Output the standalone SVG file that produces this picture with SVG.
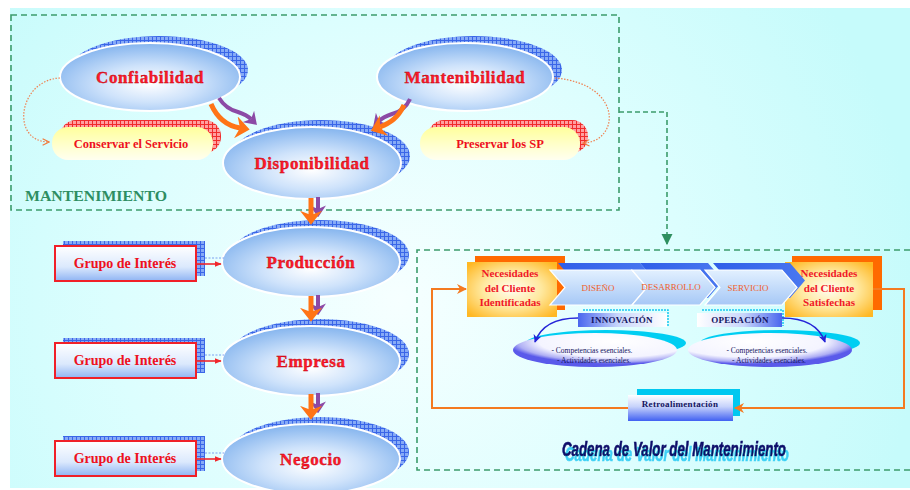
<svg xmlns="http://www.w3.org/2000/svg" width="910" height="490" viewBox="0 0 910 490">
  <defs>
    <radialGradient id="bg" cx="400" cy="300" r="520" gradientUnits="userSpaceOnUse">
      <stop offset="0" stop-color="#f6ffff"/>
      <stop offset="0.55" stop-color="#dcfefe"/>
      <stop offset="1" stop-color="#c6fbfb"/>
    </radialGradient>
    <radialGradient id="ellFill" cx="0.5" cy="0.6" r="0.6">
      <stop offset="0" stop-color="#ffffff"/>
      <stop offset="0.45" stop-color="#cfe3fb"/>
      <stop offset="1" stop-color="#84b4ee"/>
    </radialGradient>
    <linearGradient id="pillFill" x1="0" y1="0" x2="0" y2="1">
      <stop offset="0" stop-color="#ffff9c"/>
      <stop offset="0.5" stop-color="#ffffc8"/>
      <stop offset="1" stop-color="#fffff0"/>
    </linearGradient>
    <linearGradient id="grpFill" x1="0" y1="0" x2="0" y2="1">
      <stop offset="0" stop-color="#ffffff"/>
      <stop offset="0.6" stop-color="#dbe9fd"/>
      <stop offset="1" stop-color="#8fb4f3"/>
    </linearGradient>
    <radialGradient id="needFill" cx="0.5" cy="0.5" r="0.65">
      <stop offset="0" stop-color="#fffdf0"/>
      <stop offset="0.5" stop-color="#ffe9a0"/>
      <stop offset="1" stop-color="#ffb824"/>
    </radialGradient>
    <linearGradient id="chevFill" x1="0" y1="0" x2="0" y2="1">
      <stop offset="0" stop-color="#e2f0ff"/>
      <stop offset="1" stop-color="#a6c8f6"/>
    </linearGradient>
    <linearGradient id="chevShade" x1="0" y1="0" x2="1" y2="0">
      <stop offset="0" stop-color="#2f5ee8"/>
      <stop offset="1" stop-color="#4a78f0"/>
    </linearGradient>
    <linearGradient id="tagL" x1="0" y1="0" x2="1" y2="0">
      <stop offset="0" stop-color="#4a66ee"/>
      <stop offset="0.45" stop-color="#c8d6fb"/>
      <stop offset="1" stop-color="#ffffff"/>
    </linearGradient>
    <linearGradient id="tagR" x1="0" y1="0" x2="1" y2="0">
      <stop offset="0" stop-color="#ffffff"/>
      <stop offset="0.55" stop-color="#c8d6fb"/>
      <stop offset="1" stop-color="#4a66ee"/>
    </linearGradient>
    <linearGradient id="retroFill" x1="0" y1="0" x2="0" y2="1">
      <stop offset="0" stop-color="#ffffff"/>
      <stop offset="0.45" stop-color="#c6d2fb"/>
      <stop offset="1" stop-color="#4060f2"/>
    </linearGradient>
    <radialGradient id="compL" cx="0.62" cy="0.25" r="0.66">
      <stop offset="0" stop-color="#ffffff"/>
      <stop offset="0.7" stop-color="#f4f4ff"/>
      <stop offset="0.9" stop-color="#aeaef4"/>
      <stop offset="1" stop-color="#5a5aea"/>
    </radialGradient>
    <radialGradient id="compR" cx="0.38" cy="0.25" r="0.66">
      <stop offset="0" stop-color="#ffffff"/>
      <stop offset="0.7" stop-color="#f4f4ff"/>
      <stop offset="0.9" stop-color="#aeaef4"/>
      <stop offset="1" stop-color="#5a5aea"/>
    </radialGradient>
    <pattern id="hatchBlue" width="4" height="4" patternUnits="userSpaceOnUse">
      <rect width="4" height="4" fill="#86aaf6"/>
      <path d="M0,0.5H4M0.5,0V4" stroke="#3a66e8" stroke-width="1"/>
    </pattern>
    <pattern id="hatchRed" width="4" height="4" patternUnits="userSpaceOnUse">
      <rect width="4" height="4" fill="#ffa0a0"/>
      <path d="M0,0.5H4M0.5,0V4" stroke="#f02c2c" stroke-width="1"/>
    </pattern>
    <filter id="titleShadow" filterUnits="userSpaceOnUse" x="530" y="410" width="300" height="75">
      <feOffset in="SourceAlpha" dx="3" dy="5" result="off"/>
      <feFlood flood-color="#22c8f4" flood-opacity="0.85"/>
      <feComposite in2="off" operator="in" result="shade"/>
      <feMerge>
        <feMergeNode in="shade"/>
        <feMergeNode in="SourceGraphic"/>
      </feMerge>
    </filter>
    <marker id="mThick" viewBox="0 0 10 10" refX="3" refY="5" markerWidth="2.8" markerHeight="4.4" preserveAspectRatio="none" orient="auto">
      <path d="M0,0 L10,5 L0,10 L3,5 z" fill="#ff7416"/>
    </marker>
    <marker id="mPurple" viewBox="0 0 10 10" refX="3" refY="5" markerWidth="3" markerHeight="4" preserveAspectRatio="none" orient="auto">
      <path d="M0,0 L10,5 L0,10 L3,5 z" fill="#8c4aa6"/>
    </marker>
    <marker id="mDot" viewBox="0 0 10 10" refX="9" refY="5" markerWidth="8" markerHeight="8" markerUnits="userSpaceOnUse" orient="auto">
      <path d="M1,1 L9,5 L1,9" fill="none" stroke="#f07a3c" stroke-width="1.4"/>
    </marker>
    <marker id="mRed" viewBox="0 0 10 10" refX="9" refY="5" markerWidth="7" markerHeight="7" markerUnits="userSpaceOnUse" orient="auto">
      <path d="M0,1 L10,5 L0,9 z" fill="#f0282c"/>
    </marker>
    <marker id="mGreen" viewBox="0 0 10 10" refX="9" refY="5" markerWidth="11" markerHeight="12" markerUnits="userSpaceOnUse" orient="auto">
      <path d="M0,0 L10,5 L0,10 z" fill="#2f8f5f"/>
    </marker>
    <marker id="mOrange" viewBox="0 0 10 10" refX="9" refY="5" markerWidth="11" markerHeight="10" markerUnits="userSpaceOnUse" orient="auto">
      <path d="M0,0 L10,5 L0,10 L3,5 z" fill="#f47a20"/>
    </marker>
    <marker id="mBlue" viewBox="0 0 10 10" refX="9" refY="5" markerWidth="8" markerHeight="8" markerUnits="userSpaceOnUse" orient="auto">
      <path d="M0,0 L10,5 L0,10 L3,5 z" fill="#2424d8"/>
    </marker>
    <style>
      .frame { fill: none; stroke: #3c9c6c; stroke-width: 1.6; stroke-dasharray: 6 4; }
      .ell { fill: url(#ellFill); stroke: #ffffff; stroke-width: 2; }
      .ellShade { fill: url(#hatchBlue); }
      .big { font-family: "Liberation Serif", "Times New Roman", serif; font-weight: bold; font-size: 17px; fill: #ff1a2a; stroke: #b8000c; stroke-width: 0.35; text-anchor: middle; letter-spacing: 0.6px; }
      .pill { fill: url(#pillFill); }
      .pillShade { fill: url(#hatchRed); }
      .pillTxt { font-family: "Liberation Serif", serif; font-weight: bold; font-size: 12.5px; fill: #ee1020; text-anchor: middle; }
      .grp { fill: url(#grpFill); stroke: #f02028; stroke-width: 2; }
      .grpTxt { font-family: "Liberation Serif", serif; font-weight: bold; font-size: 14px; fill: #ee1020; text-anchor: middle; }
      .need { fill: url(#needFill); }
      .needShade { fill: #ff6a00; }
      .needTxt { font-family: "Liberation Serif", serif; font-weight: bold; font-size: 11px; fill: #f01828; text-anchor: middle; }
      .chev { fill: url(#chevFill); stroke: #ffffff; stroke-width: 1.2; }
      .chevShade { fill: url(#chevShade); }
      .chevTxt { font-family: "Liberation Serif", serif; font-size: 9px; fill: #f0602a; text-anchor: middle; }
      .tagTxt { font-family: "Liberation Serif", serif; font-weight: bold; font-size: 9px; fill: #141460; text-anchor: middle; letter-spacing: 0.3px; }
      .smallTxt { font-family: "Liberation Serif", serif; font-size: 7.5px; fill: #141460; text-anchor: middle; }
      .thick { fill: none; stroke: #ff7416; stroke-width: 5; marker-end: url(#mThick); }
      .purple { fill: none; stroke: #8c4aa6; stroke-width: 4; marker-end: url(#mPurple); }
    </style>
  </defs>

  <!-- page background -->
  <rect x="10" y="8" width="900" height="480" fill="url(#bg)"/>

  <!-- dashed frames -->
  <rect class="frame" x="11" y="15" width="608" height="195"/>
  <path class="frame" d="M910,250 H417 V470 H910"/>
  <text x="25" y="201" font-family="Liberation Serif, serif" font-weight="bold" font-size="14.5" fill="#2e8e62" textLength="142" lengthAdjust="spacingAndGlyphs">MANTENIMIENTO</text>

  <!-- maintenance nodes -->
  <g id="confiabilidad">
    <ellipse class="ellShade" cx="159" cy="70" rx="89" ry="34"/>
    <ellipse class="ell" cx="150" cy="77" rx="90" ry="34"/>
    <text class="big" x="150" y="83">Confiabilidad</text>
  </g>
  <g id="mantenibilidad">
    <ellipse class="ellShade" cx="474" cy="70" rx="88" ry="34"/>
    <ellipse class="ell" cx="465" cy="77" rx="88" ry="34"/>
    <text class="big" x="465" y="83">Mantenibilidad</text>
  </g>
  <g id="conservar">
    <rect class="pillShade" x="60" y="120" width="161" height="33" rx="16"/>
    <rect class="pill" x="52" y="127" width="161" height="33" rx="16"/>
    <text class="pillTxt" x="131" y="148">Conservar el Servicio</text>
  </g>
  <g id="preservar">
    <rect class="pillShade" x="428" y="120" width="160" height="33" rx="16"/>
    <rect class="pill" x="420" y="127" width="160" height="33" rx="16"/>
    <text class="pillTxt" x="500" y="148">Preservar los SP</text>
  </g>
  <g id="disponibilidad">
    <ellipse class="ellShade" cx="321" cy="156" rx="89" ry="36"/>
    <ellipse class="ell" cx="312" cy="163" rx="89" ry="36"/>
    <text class="big" x="312" y="169">Disponibilidad</text>
  </g>

  <!-- business chain -->
  <g id="produccion">
    <ellipse class="ellShade" cx="320" cy="255" rx="89" ry="35"/>
    <ellipse class="ell" cx="311" cy="262" rx="89" ry="35"/>
    <text class="big" x="311" y="268">Producción</text>
  </g>
  <g id="empresa">
    <ellipse class="ellShade" cx="320" cy="354" rx="89" ry="35"/>
    <ellipse class="ell" cx="311" cy="361" rx="89" ry="35"/>
    <text class="big" x="311" y="367">Empresa</text>
  </g>
  <g id="negocio">
    <ellipse class="ellShade" cx="320" cy="452" rx="89" ry="35"/>
    <ellipse class="ell" cx="311" cy="459" rx="89" ry="35"/>
    <text class="big" x="311" y="465">Negocio</text>
  </g>
  <g id="grupo1">
    <rect class="ellShade" x="63" y="241" width="142" height="35"/>
    <rect class="grp" x="55" y="246" width="141" height="35"/>
    <text class="grpTxt" x="125" y="268">Grupo de Interés</text>
  </g>
  <g id="grupo2">
    <rect class="ellShade" x="63" y="338" width="142" height="35"/>
    <rect class="grp" x="55" y="343" width="141" height="35"/>
    <text class="grpTxt" x="125" y="365">Grupo de Interés</text>
  </g>
  <g id="grupo3">
    <rect class="ellShade" x="63" y="436" width="142" height="35"/>
    <rect class="grp" x="55" y="441" width="141" height="35"/>
    <text class="grpTxt" x="125" y="463">Grupo de Interés</text>
  </g>

  <!-- value chain -->
  <g id="necesidades-identificadas">
    <rect class="needShade" x="475" y="256" width="90" height="54"/>
    <rect class="need" x="467" y="262" width="90" height="55"/>
    <text class="needTxt" x="510" y="277">Necesidades</text>
    <text class="needTxt" x="510" y="292">del Cliente</text>
    <text class="needTxt" x="510" y="306">Identificadas</text>
  </g>
  <g id="necesidades-satisfechas">
    <rect class="needShade" x="792" y="256" width="90" height="54"/>
    <rect class="need" x="785" y="262" width="88" height="55"/>
    <text class="needTxt" x="829" y="277">Necesidades</text>
    <text class="needTxt" x="829" y="292">del Cliente</text>
    <text class="needTxt" x="829" y="306">Satisfechas</text>
  </g>
  <g id="diseno">
    <polygon class="chevShade" points="558,263 640,263 655,280.5 640,298 558,298 573,280.5"/>
    <polygon class="chev" points="550,270 632,270 647,287.5 632,305 550,305 565,287.5"/>
    <text class="chevTxt" x="598" y="291">DISEÑO</text>
  </g>
  <g id="desarrollo">
    <polygon class="chevShade" points="640,263 708,263 723,280.5 708,298 640,298 655,280.5"/>
    <polygon class="chev" points="632,270 700,270 715,287.5 700,305 632,305 647,287.5"/>
    <text class="chevTxt" x="671" y="290" font-size="7.5">DESARROLLO</text>
  </g>
  <g id="servicio">
    <polygon class="chevShade" points="713,263 790,263 805,280.5 790,298 713,298 728,280.5"/>
    <polygon class="chev" points="705,270 782,270 797,287.5 782,305 705,305 720,287.5"/>
    <text class="chevTxt" x="748" y="291">SERVICIO</text>
  </g>
  <g id="innovacion">
    <path d="M583,310 H668 V326" fill="none" stroke="#18c8f0" stroke-width="1.5" stroke-dasharray="2 1"/>
    <rect x="578" y="313" width="89" height="14" fill="url(#tagL)"/>
    <text class="tagTxt" x="622" y="323">INNOVACIÓN</text>
  </g>
  <g id="operacion">
    <path d="M702,310 H783 V326" fill="none" stroke="#18c8f0" stroke-width="1.5" stroke-dasharray="2 1"/>
    <rect x="697" y="313" width="85" height="14" fill="url(#tagR)"/>
    <text class="tagTxt" x="740" y="323">OPERACIÓN</text>
  </g>
  <g id="competencias-innovacion">
    <ellipse cx="606" cy="343" rx="80" ry="13" fill="#00cef2"/>
    <ellipse cx="595" cy="350" rx="82" ry="17" fill="url(#compL)"/>
    <text class="smallTxt" x="592" y="353">- Competencias esenciales.</text>
    <text class="smallTxt" x="594" y="363">- Actividades esenciales.</text>
  </g>
  <g id="competencias-operacion">
    <ellipse cx="780" cy="343" rx="80" ry="13" fill="#00cef2"/>
    <ellipse cx="770" cy="350" rx="82" ry="17" fill="url(#compR)"/>
    <text class="smallTxt" x="767" y="353">- Competencias esenciales.</text>
    <text class="smallTxt" x="769" y="363">- Actividades esenciales.</text>
  </g>
  <g id="retroalimentacion">
    <rect x="637" y="389" width="103" height="27" fill="#00c8f0"/>
    <rect x="628" y="395" width="105" height="26" fill="url(#retroFill)"/>
    <text class="tagTxt" x="680" y="407" font-size="10">Retroalimentación</text>
  </g>

  <!-- connectors -->
  <g id="connectors">
    <!-- dotted loops to the service pills -->
    <path d="M60,78 C18,80 10,142 49,142" fill="none" stroke="#f08050" stroke-width="1.2" stroke-dasharray="1.5 1.5" marker-end="url(#mDot)"/>
    <path d="M555,78 C624,84 620,142 583,143" fill="none" stroke="#f08050" stroke-width="1.2" stroke-dasharray="1.5 1.5" marker-end="url(#mDot)"/>
    <!-- thick arrows into Disponibilidad -->
    <path class="purple" d="M219,98 C224,106 230,110 238,112 C244,114 248,116 251,119"/>
    <path class="thick" d="M211,104 C218,120 228,126 240,128"/>
    <path class="purple" d="M410,99 C406,108 400,112 392,114 C386,116 382,118 379,121"/>
    <path class="thick" d="M404,105 C398,118 390,123 380,127"/>
    <!-- vertical chain -->
    <path class="purple" d="M318,197 V209"/>
    <path class="thick" d="M311,198 V215"/>
    <path class="purple" d="M318,295 V307"/>
    <path class="thick" d="M311,296 V312"/>
    <path class="purple" d="M318,393 V405"/>
    <path class="thick" d="M311,394 V410"/>
    <!-- interest groups -->
    <path d="M205,258 H224" fill="none" stroke="#7aa0f0" stroke-width="1" stroke-dasharray="2 1.5"/>
    <path d="M196,264 H221" fill="none" stroke="#f0282c" stroke-width="1.6" marker-end="url(#mRed)"/>
    <path d="M205,355 H224" fill="none" stroke="#7aa0f0" stroke-width="1" stroke-dasharray="2 1.5"/>
    <path d="M196,361 H221" fill="none" stroke="#f0282c" stroke-width="1.6" marker-end="url(#mRed)"/>
    <path d="M205,453 H224" fill="none" stroke="#7aa0f0" stroke-width="1" stroke-dasharray="2 1.5"/>
    <path d="M196,459 H221" fill="none" stroke="#f0282c" stroke-width="1.6" marker-end="url(#mRed)"/>
    <!-- link to the value chain -->
    <path d="M619,112 H667 V244" fill="none" stroke="#3c9c6c" stroke-width="1.6" stroke-dasharray="5 3" marker-end="url(#mGreen)"/>
    <!-- feedback loop -->
    <path d="M873,289 H904 V408 H735" fill="none" stroke="#f47a20" stroke-width="2" marker-end="url(#mOrange)"/>
    <path d="M628,408 H432 V289 H466" fill="none" stroke="#f47a20" stroke-width="2" marker-end="url(#mOrange)"/>
    <!-- curved blue arrows -->
    <path d="M578,318 C552,318 540,328 535,342" fill="none" stroke="#2424d8" stroke-width="1.6" marker-end="url(#mBlue)"/>
    <path d="M782,318 C808,318 820,328 825,342" fill="none" stroke="#2424d8" stroke-width="1.6" marker-end="url(#mBlue)"/>
  </g>

  <!-- value chain title with its cyan drop shade -->
  <g id="titulo" filter="url(#titleShadow)">
    <text x="562" y="456" font-family="Liberation Sans, Arial, sans-serif" font-weight="bold" font-style="italic" font-size="21" fill="#0c0c6a" stroke="#0c0c6a" stroke-width="0.7" textLength="224" lengthAdjust="spacingAndGlyphs">Cadena de Valor del Mantenimiento</text>
  </g>
</svg>
